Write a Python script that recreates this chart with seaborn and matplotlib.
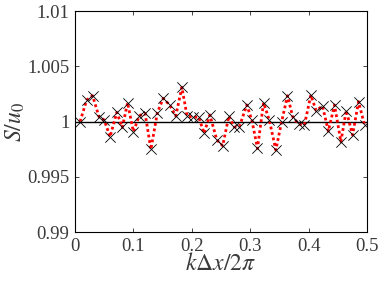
import matplotlib
matplotlib.use("Agg")
import matplotlib.pyplot as plt
import seaborn as sns
import pandas as pd

k_values = [0.0086, 0.020, 0.030, 0.041, 0.050, 0.060, 0.0715, 0.081, 0.090, 0.100,
            0.110, 0.120, 0.130, 0.141, 0.151, 0.162, 0.1726, 0.183, 0.192, 0.202,
            0.212, 0.221, 0.231, 0.243, 0.253, 0.2635, 0.2725, 0.2815, 0.2943, 0.303,
            0.3126, 0.323, 0.333, 0.344, 0.354, 0.364, 0.373, 0.383, 0.393, 0.404,
            0.413, 0.424, 0.434, 0.4446, 0.4555, 0.4646, 0.4755, 0.4857, 0.496]
s_values = [1.0000, 1.00195, 1.00234, 1.00044, 1.00014, 0.99862, 1.00083, 0.99947, 1.0017, 0.99908,
            1.00053, 1.00074, 0.99748, 1.0008, 1.0021, 1.0015, 1.0005, 1.0031, 1.0005, 1.0004,
            1.0004, 0.99893, 1.00059, 0.99833, 0.99781, 1.0005, 0.99953, 0.99953, 1.0015, 1.0001,
            0.99757, 1.0017, 1.0001, 0.99742, 1.0000, 1.00234, 1.00043, 0.99977, 0.99968, 1.0024,
            1.0010, 1.0014, 0.99914, 1.0015, 0.99817, 1.0010, 0.99878, 1.0018, 0.99968]
reference_level = 1.0
x_ticks = [0, 0.1, 0.2, 0.3, 0.4, 0.5]
x_tick_labels = ["0", "0.1", "0.2", "0.3", "0.4", "0.5"]
y_ticks = [0.99, 0.995, 1.0, 1.005, 1.01]
y_tick_labels = ["0.99", "0.995", "1", "1.005", "1.01"]

df = pd.DataFrame({"k": k_values, "S": s_values})

sns.set_theme(style="ticks")
plt.rcParams["font.family"] = ["Liberation Serif", "DejaVu Serif"]
plt.rcParams["mathtext.fontset"] = "stix"

fig = plt.figure(figsize=(3.79, 2.84), dpi=100)
ax = fig.add_axes([0.198, 0.183, 0.770, 0.778])

ax.axhline(reference_level, color="black", lw=1.0, zorder=1)
sns.lineplot(data=df, x="k", y="S", ax=ax, color="red", lw=2.0,
             linestyle=(0, (1, 1)), zorder=2, sort=False)
sns.scatterplot(data=df, x="k", y="S", ax=ax, marker="x", s=55,
                color="black", linewidth=0.6, zorder=3)

ax.set_xlim(0, 0.5)
ax.set_ylim(0.99, 1.01)
ax.set_xticks(x_ticks)
ax.set_xticklabels(x_tick_labels)
ax.set_yticks(y_ticks)
ax.set_yticklabels(y_tick_labels)
ax.tick_params(direction="in", length=3, width=0.6, top=True, right=True,
               labelsize=13.5, labelcolor="#3a3a3a", pad=4)
for sp in ax.spines.values():
    sp.set_visible(True)
    sp.set_linewidth(0.8)
    sp.set_color("black")

ax.set_xlabel(r"$k\Delta x/2\pi$", fontsize=17, color="#3a3a3a", labelpad=-1)
ax.set_ylabel(r"$S/u_0$", fontsize=17, color="#3a3a3a", labelpad=0)

fig.savefig("out.png", dpi=100)
